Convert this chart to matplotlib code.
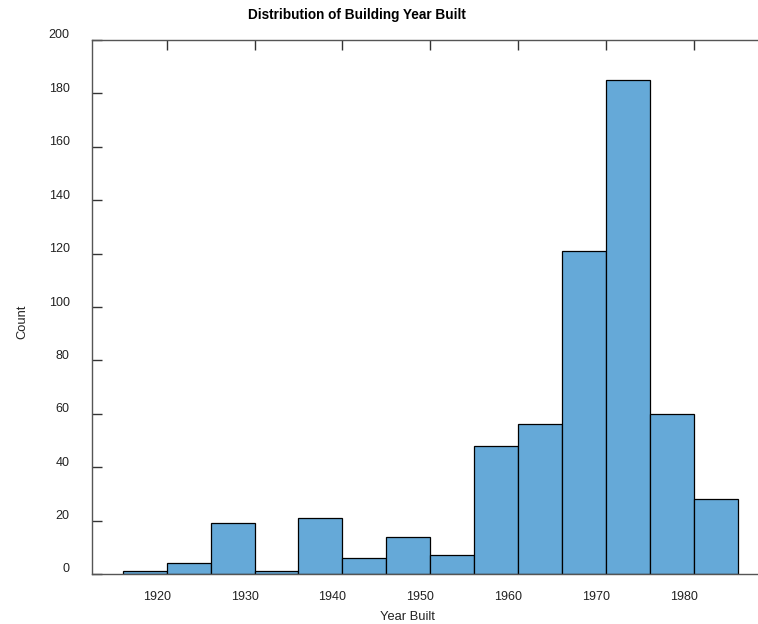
import numpy as np
import matplotlib.pyplot as plt
import matplotlib.transforms as mtransforms

plt.rcParams['font.family'] = ['Liberation Sans', 'DejaVu Sans']

# bins of 5 years and their counts
bin_edges = [1915, 1920, 1925, 1930, 1935, 1940, 1945, 1950, 1955,
             1960, 1965, 1970, 1975, 1980, 1985]
counts = [1, 4, 19, 1, 21, 6, 14, 7, 48, 56, 121, 185, 60, 28]
x_ticks = [1920, 1930, 1940, 1950, 1960, 1970, 1980]
y_ticks = [0, 20, 40, 60, 80, 100, 120, 140, 160, 180, 200]

fig = plt.figure(figsize=(7.58, 6.24), dpi=100)
ax = fig.add_axes([92/758, 50/624, 1 - 92/758, 534/624])

ax.hist(bin_edges[:-1], bins=bin_edges, weights=counts,
        color='#65a9d8', edgecolor='black', linewidth=0.9)

ax.set_xlim(1911.5, 1987.3)
ax.set_ylim(0, 200)
ax.set_xticks(x_ticks)
ax.set_yticks(y_ticks)

for s in ['left', 'top', 'bottom']:
    ax.spines[s].set_color('#555555')
    ax.spines[s].set_linewidth(1.0)
ax.spines['right'].set_visible(False)

ax.tick_params(axis='x', top=True, bottom=False, labeltop=False, labelbottom=True,
               direction='in', length=7, width=1, color='#333333',
               labelsize=9, labelcolor='#222222', pad=12)
ax.tick_params(axis='y', left=True, right=False, direction='in', length=7,
               width=1, color='#333333', labelsize=9, labelcolor='#222222', pad=16)

# labels sit a bit off their ticks in the original
dx = mtransforms.ScaledTranslation(-10/100, 0, fig.dpi_scale_trans)
for lbl in ax.get_xticklabels():
    lbl.set_transform(lbl.get_transform() + dx)
dy = mtransforms.ScaledTranslation(0, 6/100, fig.dpi_scale_trans)
for lbl in ax.get_yticklabels():
    lbl.set_transform(lbl.get_transform() + dy)

fig.text(357/758, 1 - 15/624, "Distribution of Building Year Built",
         ha='center', va='center', fontsize=9.8, fontweight='bold')
fig.text(407/758, 1 - 617/624, "Year Built", ha='center', va='center',
         fontsize=9.3, color='#222222')
fig.text(22/758, 1 - 322/624, "Count", ha='center', va='center',
         rotation=90, fontsize=9.3, color='#222222')

fig.savefig('out.png', dpi=100)
